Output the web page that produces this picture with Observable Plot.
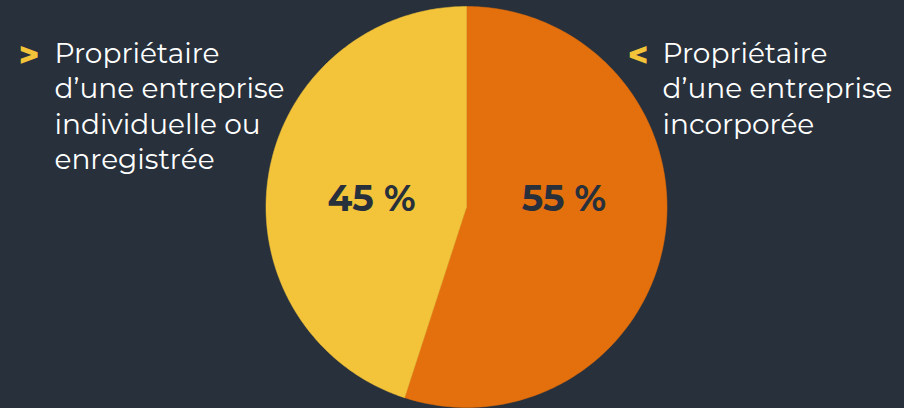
<!DOCTYPE html>
<html>
<head>
<meta charset="utf-8">
<script src="https://cdn.jsdelivr.net/npm/d3@7"></script>
<script src="https://cdn.jsdelivr.net/npm/@observablehq/plot@0.6"></script>
<style>
  html, body { margin: 0; padding: 0; background: #27303b; }
  #chart { width: 904px; height: 408px; }
</style>
</head>
<body>
<div id="chart"></div>
<script>
const categories = ["Propriétaire d’une entreprise incorporée", "Propriétaire d’une entreprise individuelle ou enregistrée"];
const values = [55, 45];
const valueLabels = ["55 %", "45 %"];
const legendLeft = "Propriétaire\nd’une entreprise\nindividuelle ou\nenregistrée";
const legendRight = "Propriétaire\nd’une entreprise\nincorporée";

const colors = ["#e36f0d", "#f3c43a"];
const bg = "#27303b";

const W = 904, H = 408;
const cx = 466, cy = 206.5, R = 200.5;

// pie geometry from data (unit circle, clockwise from top)
const pie = d3.pie().sort(null).value(d => d.value)(categories.map((c, i) => ({cat: c, value: values[i]})));
const pts = [];
pie.forEach((p, i) => {
  const n = 240;
  pts.push({cat: p.data.cat, x: 0, y: 0});
  for (let k = 0; k <= n; k++) {
    const a = p.startAngle + (p.endAngle - p.startAngle) * k / n;
    pts.push({cat: p.data.cat, x: Math.sin(a), y: Math.cos(a)});
  }
  pts.push({cat: p.data.cat, x: 0, y: 0});
});

// label positions (unit coords)
const labelData = [
  {label: valueLabels[0], x: 0.486, y: 0.037},
  {label: valueLabels[1], x: -0.474, y: 0.037}
];

const font = "Montserrat, Inter, sans-serif";
const fs = 28;
const chart = Plot.plot({
  width: W, height: H,
  margin: 0,
  style: {background: bg, fontFamily: font},
  x: {domain: [-cx / R, (W - cx) / R], axis: null},
  y: {domain: [-(H - cy) / R, cy / R], axis: null},
  color: {domain: categories, range: colors},
  marks: [
    Plot.line(pts, {x: "x", y: "y", z: "cat", fill: "cat", stroke: "cat", strokeWidth: 0.5, curve: "linear"}),
    Plot.text(labelData, {x: "x", y: "y", text: "label", fill: "#27303b", fontSize: 36, fontWeight: 700, fontFamily: font}),
    Plot.text([">"], {frameAnchor: "top-left", dx: 28.5, dy: 56, text: d => d, lineAnchor: "middle", textAnchor: "middle", fill: "#f3c43a", fontSize: 34, fontWeight: 800}),
    Plot.text([legendLeft], {frameAnchor: "top-left", dx: 54, dy: 37, text: d => d, lineAnchor: "top", textAnchor: "start", fill: "#ffffff", fontSize: fs, fontWeight: 400, lineHeight: 35.5 / fs}),
    Plot.text(["<"], {frameAnchor: "top-left", dx: 637.5, dy: 56, text: d => d, lineAnchor: "middle", textAnchor: "middle", fill: "#f3c43a", fontSize: 34, fontWeight: 800}),
    Plot.text([legendRight], {frameAnchor: "top-left", dx: 662, dy: 37, text: d => d, lineAnchor: "top", textAnchor: "start", fill: "#ffffff", fontSize: fs, fontWeight: 400, lineHeight: 35.5 / fs})
  ]
});
document.getElementById("chart").appendChild(chart);
</script>
</body>
</html>
